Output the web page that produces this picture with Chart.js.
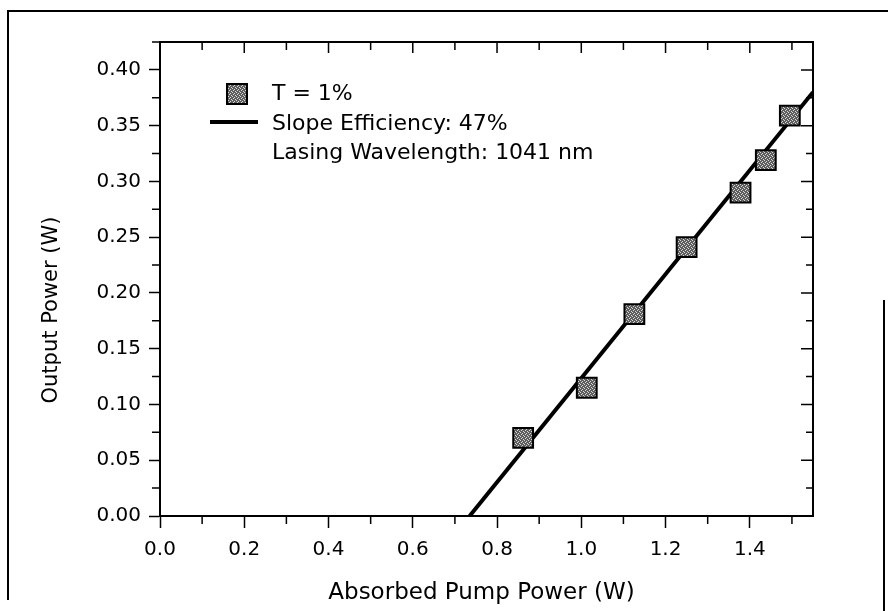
<!DOCTYPE html>
<html>
<head>
<meta charset="utf-8">
<script src="https://cdn.jsdelivr.net/npm/chart.js@4.4.1/dist/chart.umd.min.js"></script>
<style>
  body { margin: 0; background: #fff; }
  #wrap { position: relative; width: 888px; height: 611px; }
  #frameLeft { position: absolute; left: 7px; top: 10px; width: 2px; height: 590px; background: #000; }
  #frameTop { position: absolute; left: 7px; top: 10px; width: 881px; height: 2px; background: #000; }
  #frameRight { position: absolute; left: 883px; top: 300px; width: 2px; height: 311px; background: #000; }
</style>
</head>
<body>
<div id="wrap">
  <canvas id="chart" width="888" height="611"></canvas>
  <div id="frameLeft"></div>
  <div id="frameTop"></div>
  <div id="frameRight"></div>
</div>
<script>
// measured points (T = 1%)
const pumpPower = [0.862, 1.013, 1.126, 1.250, 1.378, 1.438, 1.495];
const outputPower = [0.070, 0.115, 0.181, 0.241, 0.290, 0.319, 0.359];

// linear fit, 47% slope efficiency
const fitPump = [0.735, 1.55];
const fitOutput = [0.0, 0.38];

const xTickLabels = ['0.0', '0.2', '0.4', '0.6', '0.8', '1.0', '1.2', '1.4'];
const yTickLabels = ['0.00', '0.05', '0.10', '0.15', '0.20', '0.25', '0.30', '0.35', '0.40'];
const legendLines = ['T = 1%', 'Slope Efficiency: 47%', 'Lasing Wavelength: 1041 nm'];
const xTitle = 'Absorbed Pump Power (W)';
const yTitle = 'Output Power (W)';

const FONT = '"DejaVu Sans", sans-serif';

// grey speckled fill for the square markers
function markerPattern() {
    const c = document.createElement('canvas');
    c.width = 4; c.height = 4;
    const g = c.getContext('2d');
    g.fillStyle = '#5e5e5e';
    g.fillRect(0, 0, 4, 4);
    g.fillStyle = '#d8d8d8';
    g.fillRect(0, 0, 1, 1);
    g.fillRect(2, 1, 1, 1);
    g.fillRect(1, 2, 1, 1);
    g.fillRect(3, 3, 1, 1);
    return g.createPattern(c, 'repeat');
}
const fill = markerPattern();

function drawMarker(ctx, cx, cy) {
    ctx.fillStyle = fill;
    ctx.fillRect(cx - 10, cy - 10, 20, 20);
    ctx.lineWidth = 2;
    ctx.strokeStyle = '#000';
    ctx.strokeRect(cx - 10, cy - 10, 20, 20);
}

const frameTicks = {
    id: 'frameTicks',
    afterDraw(chart) {
        const { ctx, chartArea: a, scales: { x, y } } = chart;
        ctx.save();
        ctx.strokeStyle = '#000';
        ctx.lineWidth = 2;
        ctx.beginPath();
        ctx.moveTo(a.left, a.top);
        ctx.lineTo(a.right, a.top);
        ctx.lineTo(a.right, a.bottom);
        ctx.stroke();

        ctx.lineWidth = 1.5;
        ctx.beginPath();
        for (let i = 0; i <= 15; i++) {
            const px = x.getPixelForValue(i * 0.1);
            const major = i % 2 === 0;
            if (!major) {
                ctx.moveTo(px, a.bottom);
                ctx.lineTo(px, a.bottom + 8);
            }
            ctx.moveTo(px, a.top);
            ctx.lineTo(px, a.top + (major ? 11 : 8));
        }
        for (let i = 0; i <= 17; i++) {
            const py = y.getPixelForValue(i * 0.025);
            const major = i % 2 === 0;
            if (!major) {
                ctx.moveTo(a.left, py);
                ctx.lineTo(a.left - 8, py);
            }
            ctx.moveTo(a.right, py);
            ctx.lineTo(a.right - (major ? 12 : 7), py);
        }
        ctx.stroke();

        // legend
        const lx = a.left + 77, ly = a.top + 52;
        drawMarker(ctx, lx, ly);
        ctx.lineWidth = 4;
        ctx.beginPath();
        ctx.moveTo(a.left + 50, a.top + 80);
        ctx.lineTo(a.left + 98, a.top + 80);
        ctx.stroke();
        ctx.fillStyle = '#000';
        ctx.font = '22px ' + FONT;
        ctx.textBaseline = 'middle';
        ctx.textAlign = 'left';
        ctx.fillText(legendLines[0], a.left + 112, a.top + 52);
        ctx.fillText(legendLines[1], a.left + 112, a.top + 82);
        ctx.fillText(legendLines[2], a.left + 112, a.top + 111);

        // axis titles
        ctx.textAlign = 'center';
        ctx.font = '23px ' + FONT;
        ctx.fillText(xTitle, (a.left + a.right) / 2 - 5, 593);
        ctx.translate(52, 310);
        ctx.rotate(-Math.PI / 2);
        ctx.font = '21px ' + FONT;
        ctx.fillText(yTitle, 0, 0);
        ctx.restore();
    }
};

const ctx = document.getElementById('chart').getContext('2d');
new Chart(ctx, {
    type: 'scatter',
    data: {
        datasets: [{
            label: legendLines[0],
            data: pumpPower.map((p, i) => ({ x: p, y: outputPower[i] })),
            pointStyle: 'rect',
            pointRadius: 14,
            pointBackgroundColor: fill,
            pointBorderColor: '#000',
            pointBorderWidth: 2,
            order: 0
        }, {
            label: legendLines[1],
            data: fitPump.map((p, i) => ({ x: p, y: fitOutput[i] })),
            showLine: true,
            borderColor: '#000',
            borderWidth: 4,
            pointRadius: 0,
            order: 1
        }]
    },
    options: {
        responsive: false,
        animation: false,
        devicePixelRatio: 1,
        layout: { padding: { left: 0, right: 75, top: 42, bottom: 0 } },
        plugins: { legend: { display: false }, tooltip: { enabled: false } },
        scales: {
            x: {
                type: 'linear',
                min: 0,
                max: 1.55,
                afterFit: s => { s.height = 95; },
                border: { color: '#000', width: 2 },
                grid: { drawOnChartArea: false, drawTicks: true, tickLength: 12, color: '#000', tickWidth: 1.5 },
                ticks: {
                    stepSize: 0.2,
                    includeBounds: false,
                    padding: 10,
                    color: '#000',
                    font: { family: FONT, size: 20 },
                    callback: (v, i) => xTickLabels[i]
                }
            },
            y: {
                min: 0,
                max: 0.425,
                afterFit: s => { s.width = 160; },
                border: { color: '#000', width: 2 },
                grid: { drawOnChartArea: false, drawTicks: true, tickLength: 11, color: '#000', tickWidth: 1.5 },
                ticks: {
                    stepSize: 0.05,
                    includeBounds: false,
                    padding: 8,
                    color: '#000',
                    font: { family: FONT, size: 20 },
                    callback: (v, i) => yTickLabels[i]
                }
            }
        }
    },
    plugins: [frameTicks]
});
</script>
</body>
</html>
